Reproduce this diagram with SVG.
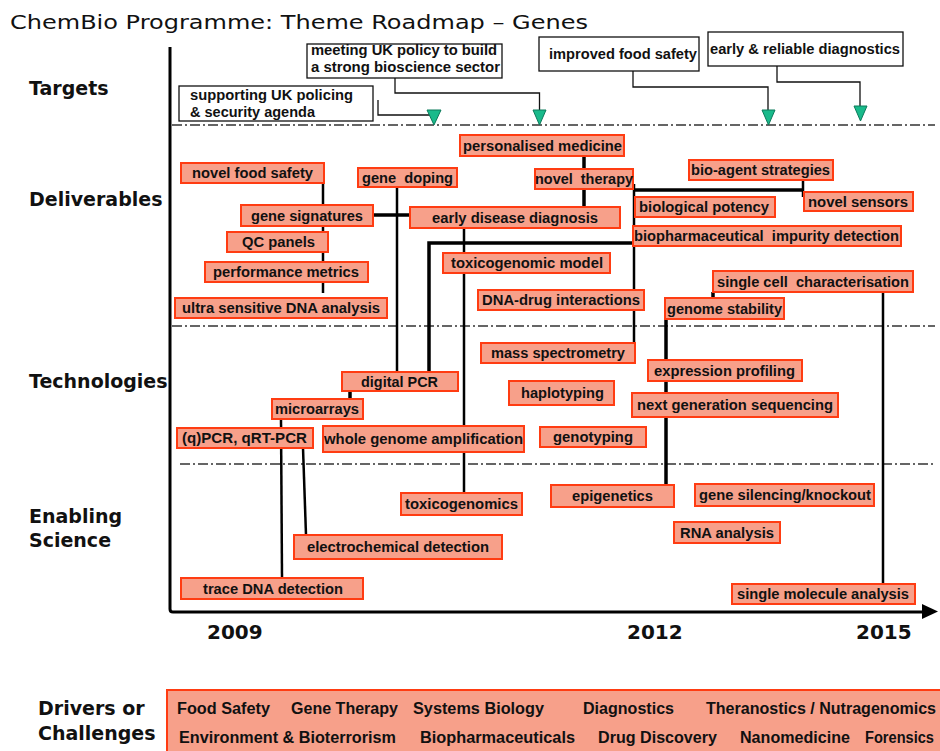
<svg xmlns="http://www.w3.org/2000/svg" width="940" height="751" viewBox="0 0 940 751">
  <style>
    .title { font-family: "DejaVu Sans", Verdana, sans-serif; font-size: 20px; fill: #111; }
    .lane { font-family: "DejaVu Sans", Verdana, sans-serif; font-size: 19px; font-weight: bold; fill: #111; }
    .year { font-family: "DejaVu Sans", Verdana, sans-serif; font-size: 20px; font-weight: bold; fill: #111; }
    .n rect { fill: #F7A08A; stroke: #FF3C12; stroke-width: 2; }
    .n text, .t text { font-family: "Liberation Sans", Arial, sans-serif; font-size: 14px; font-weight: bold; fill: #111; }
    .t rect { fill: #fff; stroke: #111; stroke-width: 1.3; }
    .tri { fill: #19BA8B; stroke: #0B7A5A; stroke-width: 1; }
    .sep { stroke: #333; stroke-width: 1.3; stroke-dasharray: 10 3 2 3; fill: none; }
    .c { stroke: #000; fill: none; stroke-width: 2.5; }
    .ck { stroke: #000; fill: none; stroke-width: 3.5; }
    .ct { stroke: #111; fill: none; stroke-width: 1.3; }
    .drv rect { fill: #F7A08A; stroke: #FF3C12; stroke-width: 2; }
    .drv text { font-family: "Liberation Sans", Arial, sans-serif; font-size: 16px; font-weight: bold; fill: #111; }
  </style>

  <!-- heading and lane labels -->
  <text class="title" x="10" y="29" textLength="578" lengthAdjust="spacingAndGlyphs">ChemBio Programme: Theme Roadmap – Genes</text>
  <text class="lane" x="29" y="95">Targets</text>
  <text class="lane" x="29" y="206">Deliverables</text>
  <text class="lane" x="29" y="388">Technologies</text>
  <text class="lane" x="29" y="523">Enabling</text>
  <text class="lane" x="29" y="547">Science</text>
  <text class="lane" x="38" y="715">Drivers or</text>
  <text class="lane" x="38" y="740">Challenges</text>

  <!-- time axis -->
  <g id="axis">
    <path d="M170,47 V609 Q170,612 173,612 H924" stroke="#000" stroke-width="3" fill="none"/>
    <polygon points="922,604 938,611.5 922,619" fill="#000"/>
    <text class="year" x="207" y="639">2009</text>
    <text class="year" x="627" y="639">2012</text>
    <text class="year" x="856" y="639">2015</text>
  </g>

  <!-- lane separators -->
  <g id="separators">
    <line class="sep" x1="172" y1="125" x2="935" y2="125"/>
    <line class="sep" x1="172" y1="326" x2="935" y2="326"/>
    <line class="sep" x1="180" y1="464" x2="935" y2="464"/>
  </g>

  <!-- connectors -->
  <g id="connectors">
    <!-- target call-outs -->
    <path class="ct" d="M378,100 V115 H434 V112"/>
    <path class="ct" d="M395,78 V93 H539.5 V112"/>
    <path class="ct" d="M633,71 V87 H768 V112"/>
    <path class="ct" d="M777,66 V82 H860 V108"/>
    <polygon class="tri" points="427,110 441,110 434,125"/>
    <polygon class="tri" points="533,110 546,110 539.5,125"/>
    <polygon class="tri" points="762,110 775,110 768.5,125"/>
    <polygon class="tri" points="854,106 867,106 860.5,121"/>

    <!-- deliverables -->
    <line class="c" x1="323" y1="183" x2="323" y2="293"/>
    <line class="ck" x1="373" y1="215" x2="410" y2="215"/>
    <line class="c" x1="397" y1="187" x2="397" y2="372"/>
    <line class="c" x1="464" y1="228" x2="464" y2="493"/>
    <path class="ck" d="M634,243 H429 V372"/>
    <line class="ck" x1="584" y1="156" x2="584" y2="169"/>
    <line class="ck" x1="584" y1="189" x2="584" y2="207"/>
    <line class="c" x1="634" y1="184" x2="634" y2="343"/>
    <line class="ck" x1="633" y1="190" x2="803" y2="190"/>
    <line class="c" x1="803" y1="181" x2="803" y2="197"/>
    <line class="ck" x1="713" y1="292" x2="713" y2="298"/>
    <line class="c" x1="883" y1="292" x2="883" y2="584"/>
    <line class="ck" x1="666" y1="319" x2="666" y2="485"/>

    <!-- technologies -->
    <line class="ck" x1="350" y1="391" x2="350" y2="399"/>
    <line class="c" x1="281" y1="419" x2="282" y2="578"/>
    <line class="c" x1="303" y1="448" x2="306" y2="535"/>
  </g>

  <!-- targets -->
  <g id="target-policing" class="t">
    <rect x="179" y="86" width="194" height="35"/>
    <text x="190" y="100" textLength="163" lengthAdjust="spacingAndGlyphs">supporting UK policing</text>
    <text x="190" y="117" textLength="125" lengthAdjust="spacingAndGlyphs">&amp; security agenda</text>
  </g>
  <g id="target-bioscience" class="t">
    <rect x="307" y="44" width="195" height="34"/>
    <text x="311" y="55" textLength="186" lengthAdjust="spacingAndGlyphs">meeting UK policy to build</text>
    <text x="311" y="72" textLength="189" lengthAdjust="spacingAndGlyphs">a strong bioscience sector</text>
  </g>
  <g id="target-food-safety" class="t">
    <rect x="539" y="37" width="160" height="34"/>
    <text x="549" y="59" textLength="148" lengthAdjust="spacingAndGlyphs">improved food safety</text>
  </g>
  <g id="target-diagnostics" class="t">
    <rect x="708" y="32" width="195" height="34"/>
    <text x="710" y="54" textLength="190" lengthAdjust="spacingAndGlyphs">early &amp; reliable diagnostics</text>
  </g>

  <!-- deliverables -->
  <g id="novel-food-safety" class="n"><rect x="181" y="163" width="143" height="20"/><text x="192" y="178" textLength="121" lengthAdjust="spacingAndGlyphs">novel food safety</text></g>
  <g id="gene-doping" class="n"><rect x="358" y="168" width="99" height="19"/><text x="362" y="183" textLength="91" lengthAdjust="spacingAndGlyphs" xml:space="preserve">gene  doping</text></g>
  <g id="gene-signatures" class="n"><rect x="241" y="205" width="132" height="21"/><text x="251" y="220.5" textLength="112" lengthAdjust="spacingAndGlyphs">gene signatures</text></g>
  <g id="qc-panels" class="n"><rect x="227" y="232" width="101" height="20"/><text x="242" y="247" textLength="73" lengthAdjust="spacingAndGlyphs">QC panels</text></g>
  <g id="performance-metrics" class="n"><rect x="205" y="262" width="163" height="20"/><text x="213" y="277" textLength="146" lengthAdjust="spacingAndGlyphs">performance metrics</text></g>
  <g id="ultra-sensitive-dna" class="n"><rect x="175" y="298" width="212" height="20"/><text x="182" y="313" textLength="198" lengthAdjust="spacingAndGlyphs">ultra sensitive DNA analysis</text></g>
  <g id="early-disease-diagnosis" class="n"><rect x="410" y="207" width="210" height="21"/><text x="432" y="222.5" textLength="166" lengthAdjust="spacingAndGlyphs">early disease diagnosis</text></g>
  <g id="personalised-medicine" class="n"><rect x="460" y="135" width="164" height="21"/><text x="463" y="150.5" textLength="159" lengthAdjust="spacingAndGlyphs">personalised medicine</text></g>
  <g id="novel-therapy" class="n"><rect x="535" y="169" width="98" height="20"/><text x="535" y="184" textLength="98" lengthAdjust="spacingAndGlyphs" xml:space="preserve">novel  therapy</text></g>
  <g id="bio-agent-strategies" class="n"><rect x="689" y="160" width="144" height="20"/><text x="691" y="175" textLength="139" lengthAdjust="spacingAndGlyphs">bio-agent strategies</text></g>
  <g id="novel-sensors" class="n"><rect x="804" y="192" width="109" height="19"/><text x="808" y="206.5" textLength="100" lengthAdjust="spacingAndGlyphs">novel sensors</text></g>
  <g id="biological-potency" class="n"><rect x="635" y="197" width="140" height="20"/><text x="639" y="212" textLength="130" lengthAdjust="spacingAndGlyphs">biological potency</text></g>
  <g id="impurity-detection" class="n"><rect x="633" y="226" width="268" height="20"/><text x="634" y="241" textLength="265" lengthAdjust="spacingAndGlyphs" xml:space="preserve">biopharmaceutical  impurity detection</text></g>
  <g id="toxicogenomic-model" class="n"><rect x="443" y="253" width="167" height="20"/><text x="451" y="268" textLength="152" lengthAdjust="spacingAndGlyphs">toxicogenomic model</text></g>
  <g id="dna-drug-interactions" class="n"><rect x="478" y="290" width="166" height="20"/><text x="482" y="305" textLength="158" lengthAdjust="spacingAndGlyphs">DNA-drug interactions</text></g>
  <g id="single-cell" class="n"><rect x="713" y="271" width="200" height="21"/><text x="717" y="286.5" textLength="192" lengthAdjust="spacingAndGlyphs" xml:space="preserve">single cell  characterisation</text></g>
  <g id="genome-stability" class="n"><rect x="665" y="298" width="119" height="21"/><text x="667" y="313.5" textLength="115" lengthAdjust="spacingAndGlyphs">genome stability</text></g>

  <!-- technologies -->
  <g id="mass-spectrometry" class="n"><rect x="481" y="343" width="154" height="20"/><text x="491" y="358" textLength="134" lengthAdjust="spacingAndGlyphs">mass spectrometry</text></g>
  <g id="expression-profiling" class="n"><rect x="648" y="360" width="154" height="21"/><text x="654" y="375.5" textLength="141" lengthAdjust="spacingAndGlyphs">expression profiling</text></g>
  <g id="haplotyping" class="n"><rect x="509" y="381" width="105" height="24"/><text x="521" y="398" textLength="83" lengthAdjust="spacingAndGlyphs">haplotyping</text></g>
  <g id="next-gen-sequencing" class="n"><rect x="632" y="393" width="206" height="24"/><text x="637" y="410" textLength="196" lengthAdjust="spacingAndGlyphs">next generation sequencing</text></g>
  <g id="genotyping" class="n"><rect x="540" y="427" width="106" height="20"/><text x="553" y="442" textLength="80" lengthAdjust="spacingAndGlyphs">genotyping</text></g>
  <g id="digital-pcr" class="n"><rect x="342" y="372" width="116" height="19"/><text x="361" y="386.5" textLength="77" lengthAdjust="spacingAndGlyphs">digital PCR</text></g>
  <g id="microarrays" class="n"><rect x="272" y="399" width="91" height="20"/><text x="275" y="414" textLength="84" lengthAdjust="spacingAndGlyphs">microarrays</text></g>
  <g id="qpcr" class="n"><rect x="177" y="428" width="136" height="20"/><text x="182" y="443" textLength="125" lengthAdjust="spacingAndGlyphs">(q)PCR, qRT-PCR</text></g>
  <g id="whole-genome-amplification" class="n"><rect x="323" y="426" width="201" height="26"/><text x="324" y="444" textLength="199" lengthAdjust="spacingAndGlyphs">whole genome amplification</text></g>

  <!-- enabling science -->
  <g id="toxicogenomics" class="n"><rect x="401" y="493" width="121" height="22"/><text x="405" y="509" textLength="113" lengthAdjust="spacingAndGlyphs">toxicogenomics</text></g>
  <g id="electrochemical-detection" class="n"><rect x="294" y="535" width="208" height="24"/><text x="307" y="552" textLength="182" lengthAdjust="spacingAndGlyphs">electrochemical detection</text></g>
  <g id="trace-dna-detection" class="n"><rect x="181" y="578" width="182" height="21"/><text x="203" y="593.5" textLength="140" lengthAdjust="spacingAndGlyphs">trace DNA detection</text></g>
  <g id="epigenetics" class="n"><rect x="551" y="485" width="123" height="22"/><text x="572" y="501" textLength="81" lengthAdjust="spacingAndGlyphs">epigenetics</text></g>
  <g id="gene-silencing" class="n"><rect x="695" y="484" width="179" height="22"/><text x="699" y="500" textLength="172" lengthAdjust="spacingAndGlyphs">gene silencing/knockout</text></g>
  <g id="rna-analysis" class="n"><rect x="674" y="522" width="106" height="21"/><text x="680" y="537.5" textLength="94" lengthAdjust="spacingAndGlyphs">RNA analysis</text></g>
  <g id="single-molecule-analysis" class="n"><rect x="732" y="584" width="183" height="20"/><text x="737" y="599" textLength="172" lengthAdjust="spacingAndGlyphs">single molecule analysis</text></g>

  <!-- drivers / challenges band -->
  <g id="drivers" class="drv">
    <rect x="167" y="690" width="790" height="75"/>
    <text x="177" y="714" textLength="93" lengthAdjust="spacingAndGlyphs">Food Safety</text>
    <text x="291" y="714" textLength="107" lengthAdjust="spacingAndGlyphs">Gene Therapy</text>
    <text x="413" y="714" textLength="131" lengthAdjust="spacingAndGlyphs">Systems Biology</text>
    <text x="583" y="714" textLength="91" lengthAdjust="spacingAndGlyphs">Diagnostics</text>
    <text x="706" y="714" textLength="230" lengthAdjust="spacingAndGlyphs">Theranostics / Nutragenomics</text>
    <text x="179" y="743" textLength="217" lengthAdjust="spacingAndGlyphs">Environment &amp; Bioterrorism</text>
    <text x="420" y="743" textLength="155" lengthAdjust="spacingAndGlyphs">Biopharmaceuticals</text>
    <text x="598" y="743" textLength="119" lengthAdjust="spacingAndGlyphs">Drug Discovery</text>
    <text x="740" y="743" textLength="110" lengthAdjust="spacingAndGlyphs">Nanomedicine</text>
    <text x="865" y="743" textLength="69" lengthAdjust="spacingAndGlyphs">Forensics</text>
  </g>
</svg>
